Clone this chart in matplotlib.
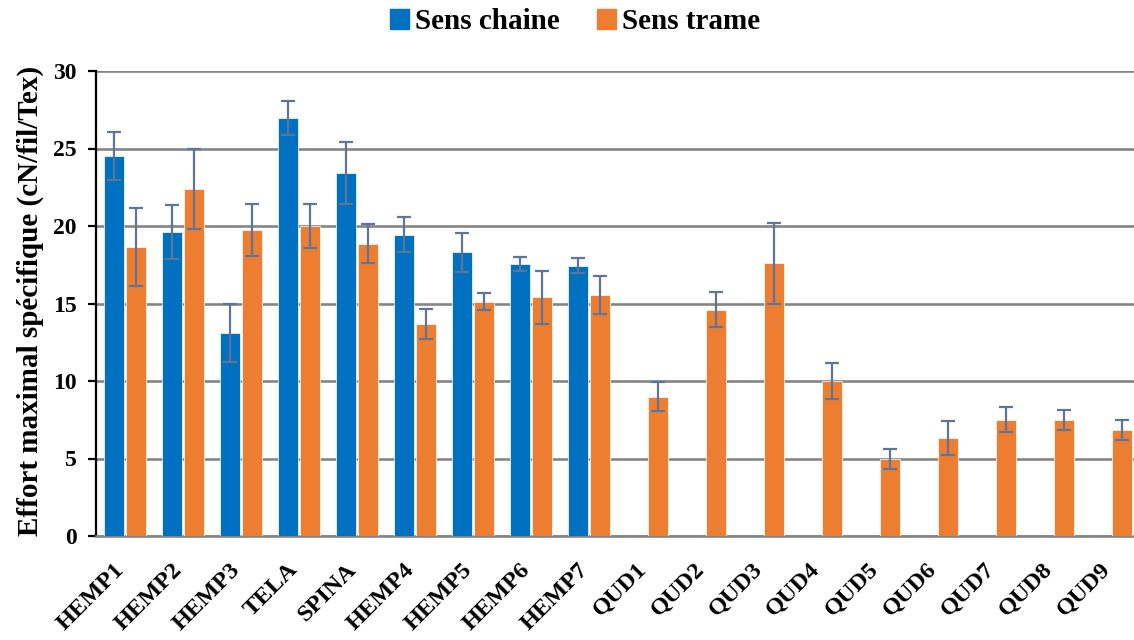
import numpy as np
import matplotlib
matplotlib.use('Agg')
import matplotlib.pyplot as plt
from matplotlib.patches import Patch
from matplotlib.transforms import ScaledTranslation

plt.rcParams['font.family'] = ['Liberation Serif', 'DejaVu Serif']
plt.rcParams['font.weight'] = 'bold'

categories = ['HEMP1', 'HEMP2', 'HEMP3', 'TELA', 'SPINA', 'HEMP4', 'HEMP5',
              'HEMP6', 'HEMP7', 'QUD1', 'QUD2', 'QUD3', 'QUD4', 'QUD5',
              'QUD6', 'QUD7', 'QUD8', 'QUD9']

# sens chaine (only measured for the first 9 fabrics)
chaine = [24.5, 19.6, 13.1, 26.95, 23.45, 19.45, 18.3, 17.55, 17.45] + [np.nan] * 9
chaine_err = [1.55, 1.75, 1.9, 1.1, 2.0, 1.15, 1.25, 0.47, 0.5] + [np.nan] * 9

# sens trame
trame = [18.65, 22.4, 19.75, 20.0, 18.85, 13.65, 15.1, 15.4, 15.55,
         9.0, 14.6, 17.6, 10.0, 4.95, 6.35, 7.5, 7.5, 6.85]
trame_err = [2.5, 2.6, 1.7, 1.45, 1.25, 0.97, 0.55, 1.72, 1.25,
             0.96, 1.14, 2.6, 1.15, 0.65, 1.1, 0.8, 0.63, 0.63]

BLUE = '#0070C0'
ORANGE = '#ED7D31'
ERR = '#5E7597'
GRID = '#858585'

W, H = 1134, 640
fig = plt.figure(figsize=(W / 100, H / 100), dpi=100)
ax = fig.add_axes([96 / W, 104 / H, 1044 / W, 465 / H])

x = np.arange(len(categories))
bw = 0.345
off = 0.19

ax.bar(x - off, chaine, bw, color=BLUE, edgecolor='white', linewidth=0.5, zorder=3)
ax.bar(x + off, trame, bw, color=ORANGE, edgecolor='white', linewidth=0.5, zorder=3)

ekw = dict(fmt='none', ecolor=ERR, elinewidth=1.6, capsize=5, capthick=1.6, zorder=4)
ax.errorbar(x - off, chaine, yerr=chaine_err, **ekw)
ax.errorbar(x + off, trame, yerr=trame_err, **ekw)

ax.set_xlim(-0.5, len(categories) - 0.5)
ax.set_ylim(0, 30)
ax.set_yticks(np.arange(0, 31, 5))
ax.yaxis.grid(True, color=GRID, linewidth=1.9, zorder=0)
ax.set_axisbelow(True)

for s in ['top', 'right']:
    ax.spines[s].set_visible(False)
ax.spines['left'].set_color('black')
ax.spines['left'].set_linewidth(1.6)
ax.spines['bottom'].set_color(GRID)
ax.spines['bottom'].set_linewidth(1.9)

ax.tick_params(axis='y', direction='out', length=6, width=1.6, labelsize=17, pad=8)
ax.tick_params(axis='x', length=0, pad=22)
ax.set_xticks(x)
ax.set_xticklabels(categories, rotation=45, ha='right', va='center',
                   rotation_mode='anchor', fontsize=17.5, fontweight='bold')
shift = ScaledTranslation(-4 / 100, 0, fig.dpi_scale_trans)
for lab in ax.get_xticklabels():
    lab.set_transform(lab.get_transform() + shift)
for lab in ax.get_yticklabels():
    lab.set_fontweight('bold')

fig.text(30 / W, 1 - 301 / H, 'Effort maximal spécifique (cN/fil/Tex)',
         rotation=90, ha='center', va='center', fontsize=21, fontweight='bold')

handles = [Patch(color=BLUE), Patch(color=ORANGE)]
fig.legend(handles, ['Sens chaine', 'Sens trame'], loc='upper center',
           bbox_to_anchor=(0.507, 1.028), ncol=2, frameon=False,
           prop={'size': 21, 'weight': 'bold'}, handlelength=0.65,
           handleheight=0.65, handletextpad=0.2, columnspacing=1.3)

fig.savefig('out.png', dpi=100)
